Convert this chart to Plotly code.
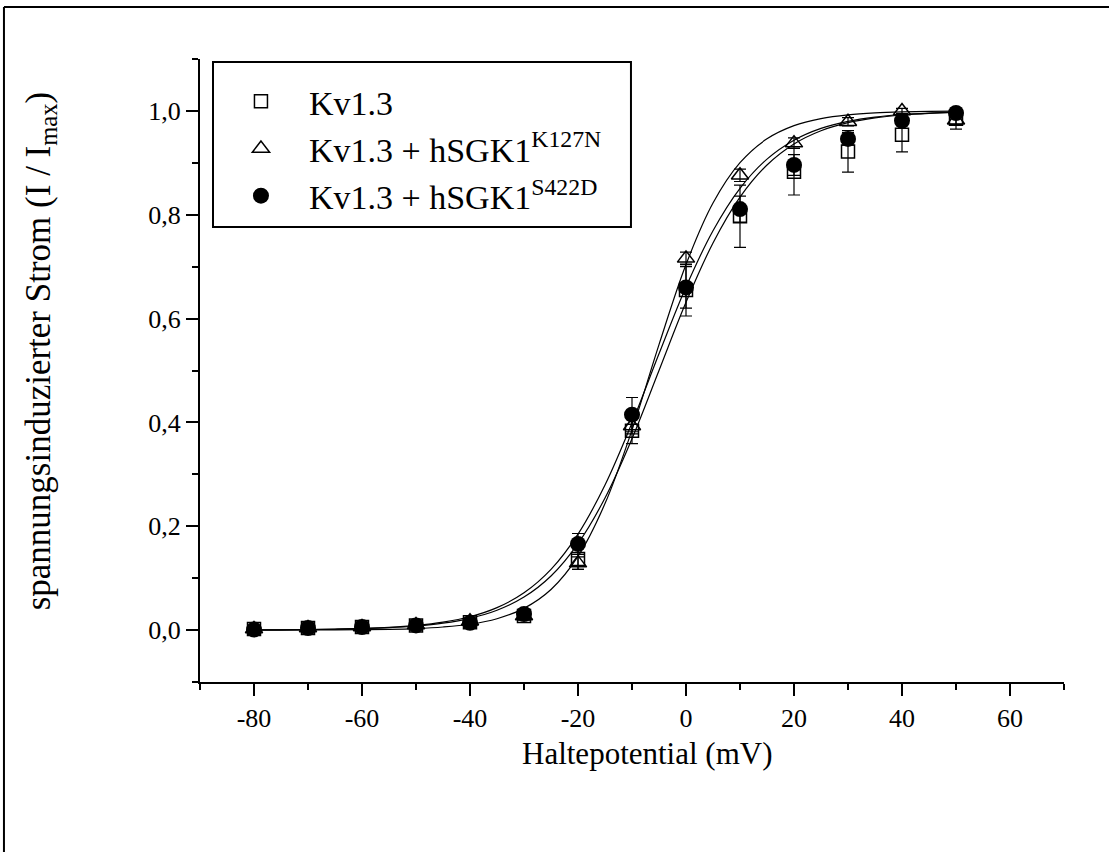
import plotly.graph_objects as go

# ---- data ----
voltage = [-80, -70, -60, -50, -40, -30, -20, -10, 0, 10, 20, 30, 40, 50]

kv13 = [0.002, 0.004, 0.006, 0.009, 0.015, 0.027, 0.137, 0.384, 0.655, 0.797, 0.883, 0.922, 0.954, 0.985]
kv13_err = [0.003, 0.003, 0.003, 0.004, 0.005, 0.008, 0.020, 0.025, 0.050, 0.060, 0.045, 0.040, 0.033, 0.020]

k127n = [0.002, 0.004, 0.006, 0.010, 0.017, 0.027, 0.129, 0.393, 0.716, 0.876, 0.938, 0.979, 1.000, 0.982]
k127n_err = [0.002, 0.002, 0.003, 0.003, 0.004, 0.006, 0.012, 0.015, 0.012, 0.012, 0.010, 0.008, 0.005, 0.008]

s422d = [0.001, 0.004, 0.006, 0.009, 0.014, 0.031, 0.166, 0.415, 0.660, 0.811, 0.896, 0.946, 0.981, 0.996]
s422d_err = [0.002, 0.002, 0.003, 0.003, 0.004, 0.006, 0.020, 0.033, 0.040, 0.025, 0.020, 0.012, 0.008, 0.005]

fit_v = [-80, -75, -70, -65, -60, -55, -50, -45, -40, -35, -30, -25, -20, -15,
         -10, -5, 0, 5, 10, 15, 20, 25, 30, 35, 40, 45, 50]
fit_kv13 = [0.0003, 0.0005, 0.0009, 0.0016, 0.0027, 0.0046, 0.0079, 0.0134, 0.0227,
            0.0382, 0.0636, 0.1042, 0.1666, 0.2544, 0.3687, 0.5000, 0.6313, 0.7456,
            0.8339, 0.8958, 0.9363, 0.9618, 0.9773, 0.9866, 0.9921, 0.9954, 0.9973]
fit_k127n = [0.0001, 0.0001, 0.0002, 0.0004, 0.0008, 0.0015, 0.0030, 0.0059, 0.0113,
             0.0219, 0.0418, 0.0781, 0.1419, 0.2436, 0.3854, 0.5498, 0.7041, 0.8225,
             0.9002, 0.9462, 0.9716, 0.9852, 0.9924, 0.9961, 0.9980, 0.9990, 0.9995]
fit_s422d = [0.0004, 0.0006, 0.0010, 0.0018, 0.0031, 0.0052, 0.0089, 0.0152, 0.0257,
             0.0432, 0.0718, 0.1169, 0.1848, 0.2796, 0.3992, 0.5322, 0.6609, 0.7692,
             0.8509, 0.9072, 0.9436, 0.9663, 0.9800, 0.9882, 0.9931, 0.9959, 0.9976]

series_names = ["Kv1.3", "Kv1.3 + hSGK1<sup>K127N</sup>", "Kv1.3 + hSGK1<sup>S422D</sup>"]

x_tickvals = [-80, -60, -40, -20, 0, 20, 40, 60]
x_ticktext = ["-80", "-60", "-40", "-20", "0", "20", "40", "60"]
y_tickvals = [0.0, 0.2, 0.4, 0.6, 0.8, 1.0]
y_ticktext = ["0,0", "0,2", "0,4", "0,6", "0,8", "1,0"]

x_title = "Haltepotential (mV)"
y_title = "spannungsinduzierter Strom (I / I<sub>max</sub>)"

FONT = "Liberation Serif, Times New Roman, serif"

fig = go.Figure()

err_style = dict(type="data", color="black", thickness=1.2, width=6)

fig.add_trace(go.Scatter(
    x=voltage, y=kv13, mode="markers", name=series_names[0],
    marker=dict(symbol="square-open", size=13, color="black", line=dict(width=1.5, color="black")),
    error_y=dict(array=kv13_err, **err_style),
))
fig.add_trace(go.Scatter(
    x=voltage, y=k127n, mode="markers", name=series_names[1],
    marker=dict(symbol="triangle-up-open", size=15, color="black", line=dict(width=1.5, color="black")),
    error_y=dict(array=k127n_err, **err_style),
))
fig.add_trace(go.Scatter(
    x=voltage, y=s422d, mode="markers", name=series_names[2],
    marker=dict(symbol="circle", size=16, color="black", line=dict(width=0)),
    error_y=dict(array=s422d_err, **err_style),
))

for fit in (fit_kv13, fit_k127n, fit_s422d):
    fig.add_trace(go.Scatter(
        x=fit_v, y=fit, mode="lines", line=dict(color="black", width=1.2, shape="spline"),
        showlegend=False, hoverinfo="skip",
    ))

fig.update_layout(
    width=1109, height=852,
    margin=dict(l=200, r=45, t=59, b=170),
    paper_bgcolor="white", plot_bgcolor="white",
    font=dict(family=FONT, color="black", size=26),
    showlegend=True,
    legend=dict(
        x=0.015, y=0.978, xanchor="left", yanchor="top",
        borderwidth=0, bgcolor="rgba(0,0,0,0)",
        font=dict(family=FONT, size=34, color="black"),
        itemwidth=86, tracegroupgap=0,
    ),
    xaxis=dict(
        range=[-90, 70], showgrid=False, zeroline=False,
        showline=True, linecolor="black", linewidth=2,
        tickmode="array", tickvals=x_tickvals, ticktext=x_ticktext,
        ticks="outside", ticklen=12, tickwidth=2, tickcolor="black",
        tickfont=dict(family=FONT, size=26, color="black"),
        minor=dict(tickmode="linear", tick0=-90, dtick=10, ticks="outside",
                   ticklen=6, tickwidth=2, tickcolor="black"),
    ),
    yaxis=dict(
        range=[-0.1, 1.1], showgrid=False, zeroline=False,
        showline=True, linecolor="black", linewidth=2,
        tickmode="array", tickvals=y_tickvals, ticktext=y_ticktext,
        ticks="outside", ticklen=12, tickwidth=2, tickcolor="black",
        tickfont=dict(family=FONT, size=26, color="black"),
        minor=dict(tickmode="linear", tick0=-0.1, dtick=0.1, ticks="outside",
                   ticklen=6, tickwidth=2, tickcolor="black"),
    ),
    annotations=[
        dict(text=x_title, xref="paper", yref="paper", x=0.5185, y=-0.115,
             xanchor="center", yanchor="middle", showarrow=False,
             font=dict(family=FONT, size=31, color="black")),
        dict(text=y_title, xref="paper", yref="paper", x=-0.185, y=0.531,
             xanchor="center", yanchor="middle", showarrow=False, textangle=-90,
             font=dict(family=FONT, size=35, color="black")),
    ],
    shapes=[
        # legend frame
        dict(type="rect", xref="paper", yref="paper", x0=0.01505, x1=0.4988, y0=0.7303, y1=0.9952,
             line=dict(color="black", width=2), fillcolor="white", layer="above"),
        # outer figure frame (top and left edges)
        dict(type="line", xref="paper", yref="paper", x0=-0.2269, x1=1.06, y0=1.0835, y1=1.0835,
             line=dict(color="black", width=2)),
        dict(type="line", xref="paper", yref="paper", x0=-0.2269, x1=-0.2269, y0=1.0835, y1=-0.28,
             line=dict(color="black", width=2)),
    ],
)

fig.write_html("out.html")
